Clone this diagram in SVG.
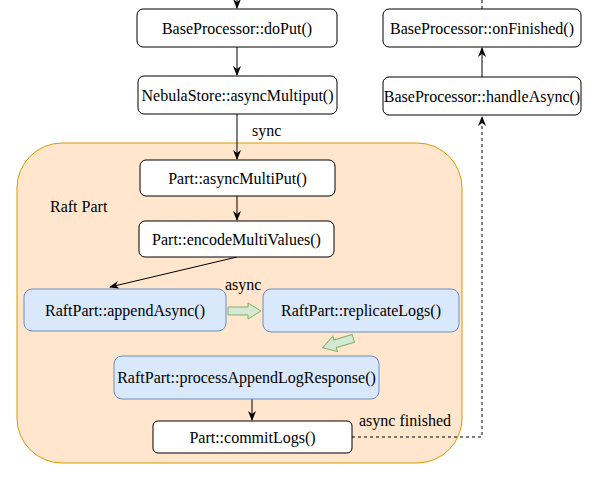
<svg xmlns="http://www.w3.org/2000/svg" width="594" height="481" viewBox="0 0 594 481">
<defs>
<style>
text{font-family:'Liberation Serif','Times New Roman',serif;font-size:16px;fill:#000}
.t{text-anchor:middle;dominant-baseline:central}
.n{fill:#fff;stroke:#000;stroke-width:1}
.b{fill:#dae8fc;stroke:#6c8ebf;stroke-width:1}
.e{fill:none;stroke:#000;stroke-width:1}
.d{fill:none;stroke:#000;stroke-width:1;stroke-dasharray:3 3}
.g{fill:#d5e8d4;stroke:#82b366;stroke-width:1}
</style>
<marker id="a" viewBox="0 0 10 10" refX="9" refY="5" markerWidth="10" markerHeight="10" markerUnits="userSpaceOnUse" orient="auto">
<path d="M0,1 L10,5 L0,9 L3,5 Z" fill="#000"/>
</marker>
</defs>
<rect id="raftpart" x="17" y="143" width="445" height="320" rx="45" ry="45" fill="#ffe6cc" stroke="#d79b00"/>
<text x="50" y="212">Raft Part</text>
<g id="connectors">
<path class="e" d="M237,0 V8" marker-end="url(#a)"/>
<path class="e" d="M237,47 V75" marker-end="url(#a)"/>
<path class="e" d="M237,114 V159" marker-end="url(#a)"/>
<path class="e" d="M237,196 V220" marker-end="url(#a)"/>
<path class="e" d="M237,257 L110,287" marker-end="url(#a)"/>
<path class="e" d="M252,399 V420" marker-end="url(#a)"/>
<path class="e" d="M482,77 V48" marker-end="url(#a)"/>
<path class="d" d="M482,0 V9"/>
<path class="d" d="M352,437 H482 V117" marker-end="url(#a)"/>
<path class="g" d="M228,307 H248 V303 L261,311 L248,319 V315 H228 Z"/>
<path class="g" transform="translate(338,343) rotate(163)" d="M-16,-4 H3 V-8 L16,0 L3,8 V4 H-16 Z"/>
<text x="252" y="136">sync</text>
<text x="225" y="290">async</text>
<text x="359" y="426">async finished</text>
</g>
<g id="doPut"><rect class="n" x="137" y="9" width="200" height="38" rx="6"/><text class="t" x="237" y="28">BaseProcessor::doPut()</text></g>
<g id="asyncMultiput"><rect class="n" x="138" y="76" width="199" height="38" rx="6"/><text class="t" x="237.5" y="95">NebulaStore::asyncMultiput()</text></g>
<g id="onFinished"><rect class="n" x="383" y="9" width="198" height="38" rx="6"/><text class="t" x="482" y="28">BaseProcessor::onFinished()</text></g>
<g id="handleAsync"><rect class="n" x="383" y="77" width="198" height="38" rx="6"/><text class="t" x="482" y="96">BaseProcessor::handleAsync()</text></g>
<g id="partAsyncMultiPut"><rect class="n" x="140" y="160" width="195" height="36" rx="6"/><text class="t" x="237.5" y="178">Part::asyncMultiPut()</text></g>
<g id="encodeMultiValues"><rect class="n" x="139" y="221" width="195" height="36" rx="6"/><text class="t" x="236.5" y="239">Part::encodeMultiValues()</text></g>
<g id="appendAsync"><rect class="b" x="24" y="289" width="202" height="42" rx="8"/><text class="t" x="125" y="310">RaftPart::appendAsync()</text></g>
<g id="replicateLogs"><rect class="b" x="263" y="289" width="196" height="43" rx="8"/><text class="t" x="361" y="310.5">RaftPart::replicateLogs()</text></g>
<g id="processAppendLogResponse"><rect class="b" x="114" y="356" width="265" height="43" rx="8"/><text class="t" x="246.5" y="377.5">RaftPart::processAppendLogResponse()</text></g>
<g id="commitLogs"><rect class="n" x="153" y="421" width="199" height="32" rx="5"/><text class="t" x="252.5" y="437">Part::commitLogs()</text></g>
</svg>
